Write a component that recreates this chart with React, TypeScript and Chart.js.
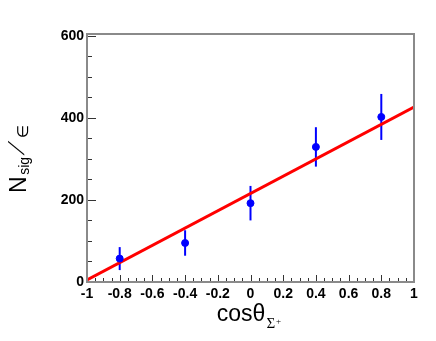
import React, { useEffect, useRef } from "react";
import { Chart, registerables } from "chart.js";

Chart.register(...registerables);

const X_VALUES = [-0.8, -0.4, 0, 0.4, 0.8];
const Y_VALUES = [57, 95, 192, 329, 402];
const Y_ERRORS = [28, 31, 42, 48, 56];
const FIT_X = [-1, 1];
const FIT_Y = [5, 426];
const X_TICKS = [-1, -0.8, -0.6, -0.4, -0.2, 0, 0.2, 0.4, 0.6, 0.8, 1];
const X_TICK_LABELS = ["-1", "-0.8", "-0.6", "-0.4", "-0.2", "0", "0.2", "0.4", "0.6", "0.8", "1"];
const Y_TICKS = [0, 200, 400, 600];
const Y_TICK_LABELS = ["0", "200", "400", "600"];
const X_MINOR_STEP = 0.05;
const Y_MINOR_STEP = 50;

const SANS = "'Liberation Sans', Arial, Helvetica, sans-serif";
const SERIF = "'Liberation Serif', 'Times New Roman', serif";

const decorPlugin = {
  id: "decor",
  beforeDatasetsDraw(chart: any) {
    const ctx = chart.ctx;
    const xs = chart.scales.x;
    const ys = chart.scales.y;
    ctx.save();
    ctx.strokeStyle = "#0000ff";
    ctx.lineWidth = 2;
    X_VALUES.forEach((xv, i) => {
      const px = xs.getPixelForValue(xv);
      const top = ys.getPixelForValue(Y_VALUES[i] + Y_ERRORS[i]);
      const bot = ys.getPixelForValue(Y_VALUES[i] - Y_ERRORS[i]);
      ctx.beginPath();
      ctx.moveTo(px, top);
      ctx.lineTo(px, bot);
      ctx.stroke();
    });
    ctx.restore();
  },
  afterDraw(chart: any) {
    const ctx = chart.ctx;
    const a = chart.chartArea;
    const xs = chart.scales.x;
    const ys = chart.scales.y;
    ctx.save();
    // ticks
    ctx.strokeStyle = "#333";
    ctx.lineWidth = 1;
    const nx = Math.round((xs.max - xs.min) / X_MINOR_STEP);
    for (let i = 0; i <= nx; i++) {
      const v = xs.min + i * X_MINOR_STEP;
      const major = i % 4 === 0;
      const px = Math.round(xs.getPixelForValue(v)) + 0.5;
      ctx.beginPath();
      ctx.moveTo(px, a.bottom);
      ctx.lineTo(px, a.bottom - (major ? 7 : 4));
      ctx.stroke();
    }
    const ny = Math.floor(ys.max / Y_MINOR_STEP);
    for (let i = 0; i <= ny; i++) {
      const v = i * Y_MINOR_STEP;
      const major = i % 4 === 0;
      const py = Math.round(ys.getPixelForValue(v)) + 0.5;
      ctx.beginPath();
      ctx.moveTo(a.left, py);
      ctx.lineTo(a.left + (major ? 9 : 5), py);
      ctx.stroke();
    }
    // frame
    ctx.strokeStyle = "#8a8a8a";
    ctx.lineWidth = 2;
    ctx.strokeRect(a.left, a.top, a.right - a.left, a.bottom - a.top);

    // y title: N_sig/∈
    ctx.fillStyle = "#000";
    ctx.textBaseline = "alphabetic";
    ctx.textAlign = "left";
    const yc = (a.top + a.bottom) / 2 + 1;
    ctx.translate(26, yc);
    ctx.rotate(-Math.PI / 2);
    const big = `23px ${SANS}`;
    const sub = `14px ${SANS}`;
    const sym = `15px 'DejaVu Sans', ${SANS}`;
    const skew = 0.55;
    ctx.font = big;
    const wN = ctx.measureText("N").width;
    const wSlash = ctx.measureText("/").width + 17 * skew;
    ctx.font = sub;
    const wSig = ctx.measureText("sig").width;
    ctx.font = sym;
    const wIn = ctx.measureText("∈").width;
    const gap = 1.5;
    const total = wN + gap + wSig + gap + wSlash + gap + wIn;
    let x = -total / 2;
    ctx.font = big;
    ctx.fillText("N", x, 0);
    x += wN + gap;
    ctx.font = sub;
    ctx.fillText("sig", x, 3);
    x += wSig + gap;
    ctx.save();
    ctx.font = `22px ${SANS}`;
    ctx.translate(x, -2);
    ctx.transform(1, 0, -skew, 1, 0, 0);
    ctx.fillText("/", 0, 0);
    ctx.restore();
    x += wSlash + gap;
    ctx.font = sym;
    ctx.fillText("∈", x, 2);
    ctx.setTransform(1, 0, 0, 1, 0, 0);

    // x title: cosθ_{Σ+}
    const xc = (a.left + a.right) / 2 - 1.5;
    const base = 321;
    const f1 = `23px ${SANS}`;
    const f2 = `15px ${SERIF}`;
    const f3 = `9px ${SERIF}`;
    ctx.font = f1;
    const w1 = ctx.measureText("cosθ").width;
    ctx.font = f2;
    const w2 = ctx.measureText("Σ").width;
    ctx.font = f3;
    const w3 = ctx.measureText("+").width;
    const tw = w1 + 1 + w2 + 1 + w3;
    let tx = xc - tw / 2;
    ctx.font = f1;
    ctx.fillText("cosθ", tx, base);
    tx += w1 + 1;
    ctx.font = f2;
    ctx.fillText("Σ", tx, base + 7);
    tx += w2 + 1;
    ctx.font = f3;
    ctx.fillText("+", tx, base + 3);
    ctx.restore();
  },
};

export default function App() {
  const ref = useRef<HTMLCanvasElement | null>(null);
  useEffect(() => {
    if (!ref.current) return;
    const chart = new Chart(ref.current, {
      type: "scatter",
      data: {
        datasets: [
          {
            label: "data",
            data: X_VALUES.map((x, i) => ({ x, y: Y_VALUES[i] })),
            backgroundColor: "#0000ff",
            borderColor: "#0000ff",
            pointRadius: 3.5,
            pointHoverRadius: 3.5,
            showLine: false,
          },
          {
            label: "fit",
            data: FIT_X.map((x, i) => ({ x, y: FIT_Y[i] })),
            borderColor: "#ff0000",
            backgroundColor: "#ff0000",
            borderWidth: 3,
            pointRadius: 0,
            showLine: true,
          },
        ],
      },
      options: {
        animation: false,
        responsive: false,
        events: [],
        layout: { padding: { top: 34, right: 22, left: 0, bottom: 0 } },
        plugins: { legend: { display: false }, tooltip: { enabled: false } },
        scales: {
          x: {
            type: "linear",
            min: -1,
            max: 1,
            grid: { display: false, drawTicks: false },
            border: { display: false },
            afterBuildTicks: (axis: any) => {
              axis.ticks = X_TICKS.map((v) => ({ value: v }));
            },
            afterFit: (axis: any) => {
              axis.height = 59;
            },
            ticks: {
              autoSkip: false,
              maxRotation: 0,
              padding: 4,
              color: "#000",
              font: { family: SANS, size: 14, weight: "bold" },
              callback: (_v: any, i: number) => X_TICK_LABELS[i],
            },
          },
          y: {
            type: "linear",
            min: 0,
            max: 604,
            grid: { display: false, drawTicks: false },
            border: { display: false },
            afterBuildTicks: (axis: any) => {
              axis.ticks = Y_TICKS.map((v) => ({ value: v }));
            },
            afterFit: (axis: any) => {
              axis.width = 87;
            },
            ticks: {
              autoSkip: false,
              padding: 3,
              color: "#000",
              font: { family: SANS, size: 14, weight: "bold" },
              callback: (_v: any, i: number) => Y_TICK_LABELS[i],
            },
          },
        },
      } as any,
      plugins: [decorPlugin],
    });
    return () => chart.destroy();
  }, []);
  return (
    <div style={{ position: "fixed", left: 0, top: 0, width: 436, height: 341, background: "#fff" }}>
      <canvas ref={ref} width={436} height={341} style={{ display: "block" }} />
    </div>
  );
}
